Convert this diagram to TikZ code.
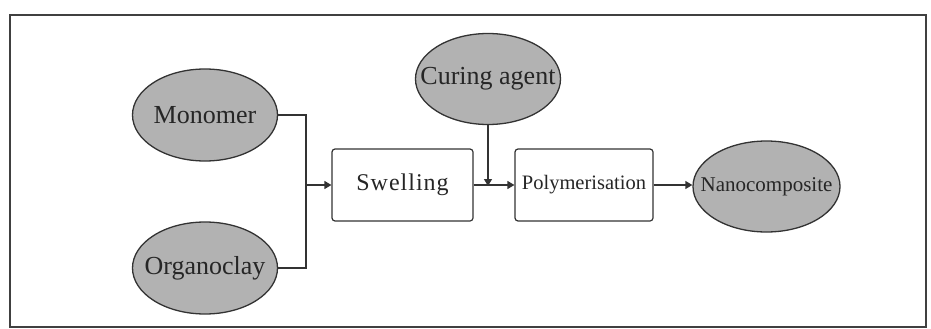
\documentclass[tikz,border=0pt]{standalone}
\usepackage{fontspec}
\setmainfont{Liberation Serif}
\usetikzlibrary{shapes.geometric,arrows.meta}
\newcommand{\ztxt}[1]{\makebox[0pt]{#1}}
\begin{document}
\begin{tikzpicture}[x=1pt,y=-1pt,
  ell/.style={ellipse,draw=black!80,line width=1.3pt,fill=black!30,
    minimum width=145pt,minimum height=92pt,inner sep=0pt,text=black!85},
  stepbox/.style={rectangle,rounded corners=3pt,draw=black!80,line width=1.2pt,
    fill=white,minimum width=141pt,minimum height=72pt,inner sep=0pt,text=black!85},
  conn/.style={draw=black!80,line width=1.3pt},
  arr/.style={conn,-{Triangle[length=7pt,width=8pt]}}]
\fill[white] (0,0) rectangle (931,329);
\useasboundingbox (0,0) rectangle (931,329);
\draw[black!75,line width=1.3pt] (10,15) rectangle (926,327);
\node[ell] (mono) at (205,115) {\fontsize{26}{28}\selectfont\ztxt{Monomer}};
\node[ell] (org) at (205,268) {\fontsize{26}{28}\selectfont\ztxt{Organoclay}};
\node[ell,minimum height=91pt] (cur) at (488,79) {\fontsize{26}{28}\selectfont\ztxt{Curing agent}};
\node[stepbox] (swell) at (402.5,185) {\fontsize{24}{26}\selectfont S\kern1pt w\kern1pt e\kern1pt l\kern1pt l\kern1pt i\kern1pt n\kern1pt g};
\node[stepbox,minimum width=138pt] (poly) at (584,185) {\fontsize{20.5}{22}\selectfont Polymerisation};
\node[ell,minimum width=147pt,minimum height=91pt] (nano) at (766.5,186.5) {\fontsize{21}{23}\selectfont\ztxt{Nanocomposite}};
\coordinate (jn) at (306,185);
\draw[conn] (mono.east) -| (jn);
\draw[conn] (org.east) -| (jn);
\draw[arr] (jn) -- (swell.west);
\draw[arr] (swell.east) -- (poly.west);
\draw[arr] (cur.south) -- ([yshift=-1pt]cur.south |- swell.east);
\draw[arr] (poly.east) -- (poly.east -| nano.west);
\end{tikzpicture}
\end{document}
